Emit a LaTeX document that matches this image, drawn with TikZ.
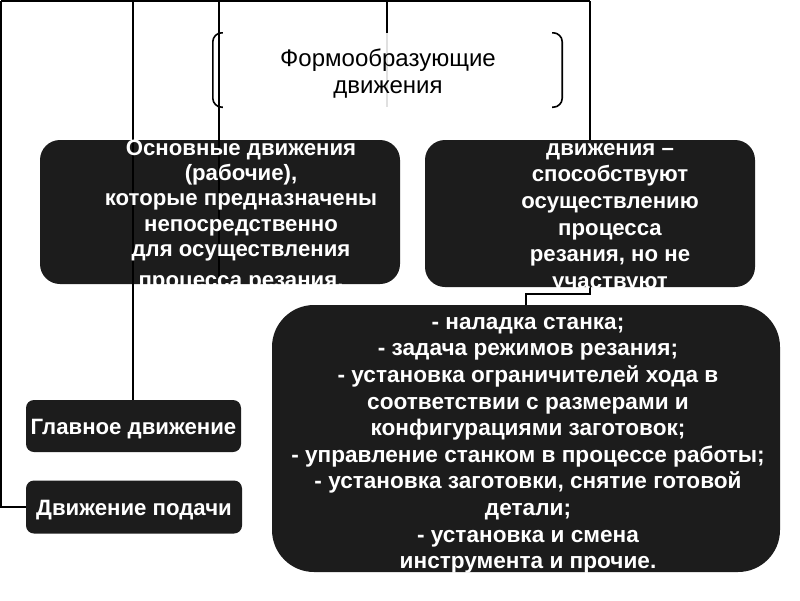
\documentclass[tikz,border=0pt]{standalone}
\usepackage{fontspec}
\setmainfont{Liberation Sans}
\pgfdeclarelayer{bg}
\pgfsetlayers{bg,main}
\tikzset{
  conn/.style={line width=2pt, draw=black},
  darkbox/.style={fill=black!89, draw=none, rounded corners=#1, inner sep=0pt, text=white,
    font=\bfseries\fontsize{22.2}{26}\selectfont, text height=16pt, text depth=0pt},
  formbox/.style={fill=white, fill opacity=0.88, draw=none, inner sep=0pt},
  bracket/.style={line width=1.6pt, rounded corners=9pt},
  wtext/.style={text=white, align=center, inner sep=0pt, font=\bfseries\fontsize{22.2}{25.4}\selectfont},
  ftext/.style={text=black, align=center, inner sep=0pt, font=\fontsize{24}{27}\selectfont}
}
\begin{document}
\begin{tikzpicture}[x=1pt,y=-1pt]
\useasboundingbox (0,0) rectangle (800,600);
\begin{pgfonlayer}{bg}
\fill[white] (0,0) rectangle (800,600);
\end{pgfonlayer}

\coordinate (tl) at (1,1);
\coordinate (tr) at (590,1);
\coordinate (c1) at (133,1);
\coordinate (c2) at (219,1);
\coordinate (c3) at (387,1);
\coordinate (c5) at (526,294);

% title box
\node[formbox, minimum width=349pt, minimum height=74pt] (form) at (387.5,70) {};
\draw[bracket] ([xshift=10pt]form.north west) -- (form.north west) -- (form.south west) -- ([xshift=10pt]form.south west);
\draw[bracket] ([xshift=-10pt]form.north east) -- (form.north east) -- (form.south east) -- ([xshift=-10pt]form.south east);
\begin{pgfonlayer}{bg}
\draw[conn] (c3) -- (c3 |- form.south);
\end{pgfonlayer}
\node[ftext, anchor=north] (formt) at (388,47.5) {\strut Формообразующие\\движения};

% dark boxes
\node[darkbox=20pt, minimum width=360pt, minimum height=144pt] (osn) at (220,212) {};
\node[darkbox=20pt, minimum width=330pt, minimum height=147pt] (aux) at (590,213.5) {};
\node[darkbox=42pt, minimum width=508pt, minimum height=267pt] (big) at (526,438.5) {};
\node[darkbox=8pt, minimum width=215pt, minimum height=52pt] (glav) at (133.5,426) {Главное движение};
\node[darkbox=8pt, minimum width=216pt, minimum height=53pt] (pod) at (134,507) {Движение подачи};

% connectors
\draw[conn] (tl) -- (tr);
\draw[conn] (tl) |- (pod.west);
\draw[conn] (c1) -- (c1 |- glav.north);
\draw[conn] (c2) -- (c2 |- osn.south);
\draw[conn] (tr) -- (aux.north);
\draw[conn] (aux.south) |- (c5) -- (big.north);

% texts
\node[wtext, anchor=north] (osnt) at (241,137.2) {\strut Основные движения\\(рабочие),\\которые предназначены\\непосредственно\\для осуществления\\[5pt]процесса резания.};
\node[wtext, font=\bfseries\fontsize{22.2}{26.7}\selectfont, anchor=north] (auxt) at (610,136.3) {\strut движения –\\способствуют\\осуществлению\\процесса\\резания, но не\\участвуют};
\node[wtext, font=\bfseries\fontsize{22.6}{26.6}\selectfont, anchor=north] (bigt) at (528,310.4) {\strut - наладка станка;\\- задача режимов резания;\\- установка ограничителей хода в\\соответствии с размерами и\\конфигурациями заготовок;\\- управление станком в процессе работы;\\- установка заготовки, снятие готовой\\детали;\\- установка и смена\\инструмента и прочие.};
\end{tikzpicture}
\end{document}
